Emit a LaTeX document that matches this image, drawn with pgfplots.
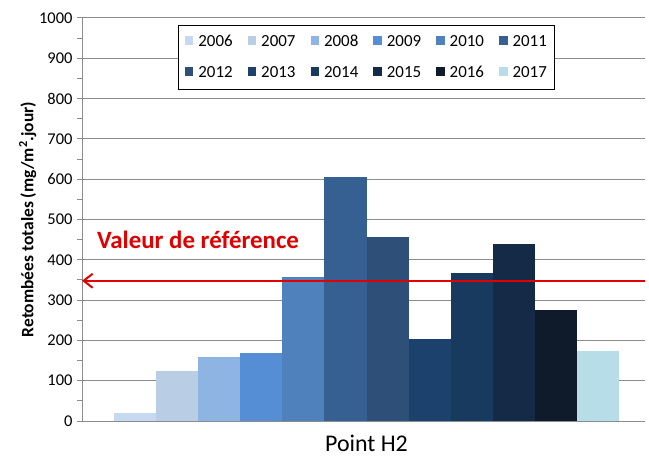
\documentclass[border=0pt]{standalone}
\usepackage{pgfplots}
\pgfplotsset{compat=1.18}
\usepackage{fontspec}
\setmainfont{Carlito}
\usetikzlibrary{arrows.meta}
\definecolor{c2006}{HTML}{C6D9F1}
\definecolor{c2007}{HTML}{B9CDE5}
\definecolor{c2008}{HTML}{8EB4E3}
\definecolor{c2009}{HTML}{558ED5}
\definecolor{c2010}{HTML}{4F81BD}
\definecolor{c2011}{HTML}{376092}
\definecolor{c2012}{HTML}{2E5078}
\definecolor{c2013}{HTML}{1C416C}
\definecolor{c2014}{HTML}{183A5E}
\definecolor{c2015}{HTML}{152A46}
\definecolor{c2016}{HTML}{0F1B2A}
\definecolor{c2017}{HTML}{B7DDE8}
\definecolor{gridgray}{HTML}{8C8C8C}
\definecolor{refred}{HTML}{E00000}
\begin{document}
\begin{tikzpicture}
\begin{axis}[
  scale only axis,
  width=563bp, height=403bp,
  ybar=0pt, bar width=42.1,
  xmin=-284.5, xmax=278.5,
  ymin=0, ymax=1000,
  ytick distance=100,
  minor y tick num=1,
  xtick={0}, xticklabels={Point H2},
  extra x ticks={-284.5}, extra x tick labels={},
  extra x tick style={major tick length=8bp, tick style={gridgray, line width=1pt}},
  x tick label style={font=\fontsize{24}{26}\selectfont, yshift=-6bp},
  y tick label style={font=\fontsize{16.5}{18}\selectfont, xshift=-1bp},
  /pgf/number format/assume math mode=true,
  /pgf/number format/1000 sep={},
  tick align=outside,
  major tick length=5bp, minor tick length=5bp,
  tick style={gridgray, line width=1pt},
  xtick style={draw=none},
  ymajorgrids, grid style={gridgray, line width=1pt},
  axis x line*=bottom, axis y line*=left,
  axis line style={gridgray, line width=1pt, -},
  ylabel={\textbf{Retombées totales (mg/m\textsuperscript{2}.jour)}},
  ylabel style={font=\fontsize{17.5}{19}\selectfont, yshift=-4bp},
  legend columns=6,
  legend style={at={(0.506,0.983)}, anchor=north, draw=black, line width=1pt,
    font=\fontsize{17}{19}\selectfont, /tikz/every even column/.append style={column sep=13bp},
    row sep=14bp, inner xsep=6bp, inner ysep=8bp,
    /tikz/every odd column/.append style={column sep=3bp}},
  legend image code/.code={\fill[#1] (0cm,-0.1cm) rectangle (0.3cm,0.2cm);},
  every axis plot/.append style={draw=none},
]
\addplot[fill=c2006] coordinates {(0,20)};
\addplot[fill=c2007] coordinates {(0,125)};
\addplot[fill=c2008] coordinates {(0,160)};
\addplot[fill=c2009] coordinates {(0,169)};
\addplot[fill=c2010] coordinates {(0,358)};
\addplot[fill=c2011] coordinates {(0,606)};
\addplot[fill=c2012] coordinates {(0,457)};
\addplot[fill=c2013] coordinates {(0,203)};
\addplot[fill=c2014] coordinates {(0,368)};
\addplot[fill=c2015] coordinates {(0,438)};
\addplot[fill=c2016] coordinates {(0,275)};
\addplot[fill=c2017] coordinates {(0,173)};
\legend{2006,2007,2008,2009,2010,2011,2012,2013,2014,2015,2016,2017}
\addplot[sharp plot, draw=refred, line width=2pt, {Straight Barb[length=9bp, width=14bp]}-, forget plot] coordinates {(-284.5,348) (278.5,348)};
\node[anchor=west, text=refred, font=\fontsize{25}{27}\selectfont\bfseries] at (axis cs:-273,450) {Valeur de référence};
\end{axis}
\path (current axis.north east) ++(4bp,18bp);
\path (current axis.south west) ++(-82bp,-45bp);
\end{tikzpicture}
\end{document}
